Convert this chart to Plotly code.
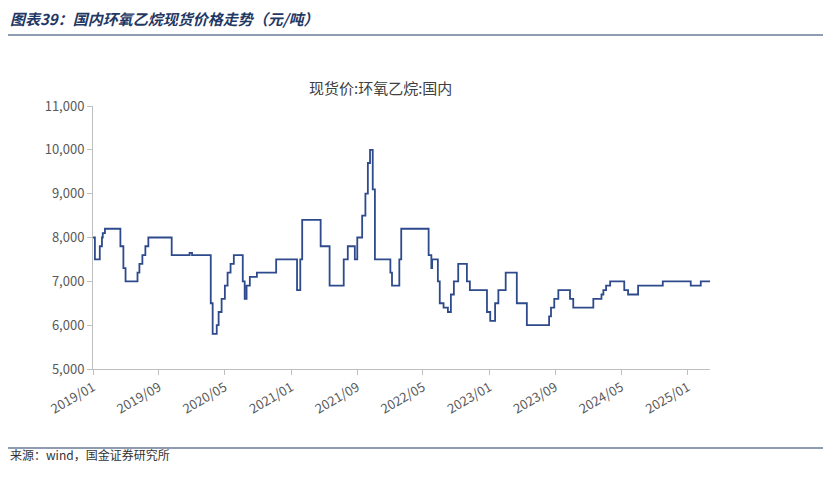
import plotly.graph_objects as go

dates = ["2019-01-01","2019-01-08","2019-01-26","2019-02-03","2019-02-06","2019-02-14","2019-04-12","2019-04-23","2019-05-01","2019-05-12","2019-06-14","2019-06-21","2019-07-02","2019-07-13","2019-07-24","2019-08-01","2019-10-18","2019-12-23","2020-01-01","2020-01-08","2020-03-10","2020-03-17","2020-04-01","2020-04-08","2020-04-19","2020-05-01","2020-05-11","2020-05-22","2020-06-03","2020-06-14","2020-07-06","2020-07-13","2020-07-20","2020-08-01","2020-08-27","2020-11-06","2021-01-22","2021-02-03","2021-02-10","2021-02-25","2021-04-19","2021-05-22","2021-07-13","2021-07-28","2021-08-23","2021-09-01","2021-09-19","2021-10-01","2021-10-10","2021-10-18","2021-10-28","2021-11-05","2022-01-01","2022-01-07","2022-02-03","2022-02-10","2022-05-22","2022-06-01","2022-06-04","2022-06-25","2022-07-02","2022-07-16","2022-08-01","2022-08-12","2022-08-23","2022-09-08","2022-10-10","2022-10-21","2022-12-23","2023-01-04","2023-01-22","2023-02-03","2023-03-02","2023-04-12","2023-05-19","2023-08-09","2023-08-16","2023-08-28","2023-09-12","2023-10-25","2023-11-06","2024-01-19","2024-02-18","2024-02-25","2024-03-06","2024-03-21","2024-05-12","2024-05-26","2024-07-02","2024-10-01","2025-01-12","2025-02-18","2025-03-24"]
prices = [8000,7500,7800,8000,8100,8200,7800,7300,7000,7000,7200,7400,7600,7800,8000,8000,7600,7650,7600,7600,6500,5800,6000,6300,6600,6900,7200,7400,7600,7600,7000,6600,6900,7100,7200,7500,6800,7500,8400,8400,7800,6900,7500,7800,7500,8000,8500,9000,9700,10000,9100,7500,7200,6900,7500,8200,7600,7300,7500,7000,6500,6400,6300,6700,7000,7400,7000,6800,6300,6100,6500,6800,7200,6500,6000,6200,6400,6600,6800,6600,6400,6600,6700,6800,6900,7000,6800,6700,6900,7000,6900,7000,7000]
tick_vals = ["2019-01-01","2019-09-01","2020-05-01","2021-01-01","2021-09-01","2022-05-01","2023-01-01","2023-09-01","2024-05-01","2025-01-01"]
tick_text = ["2019/01","2019/09","2020/05","2021/01","2021/09","2022/05","2023/01","2023/09","2024/05","2025/01"]

OFF = 8
W, H = 831, 478
L, R, T, B = 93 - OFF, W - (710 - OFF), 106 - OFF, H - (369 - OFF)
fig = go.Figure(go.Scatter(x=dates, y=prices, mode="lines", line=dict(color="#2E4A8C", width=1.8, shape="hv")))
fnt = "Noto Sans CJK SC"
fig.update_layout(
    width=W, height=H, margin=dict(l=L, r=R, t=T, b=B),
    paper_bgcolor="white", plot_bgcolor="white", showlegend=False,
    font=dict(family=fnt, color="#595959", size=13),
    xaxis=dict(range=["2019-01-01","2025-03-24"], tickvals=tick_vals, ticktext=tick_text, tickangle=-30,
               showgrid=False, showline=True, linecolor="#BFBFBF", ticks="outside", tickcolor="#BFBFBF", ticklen=5),
    yaxis=dict(range=[5000,11000], dtick=1000, tickformat=",", showgrid=False, showline=True,
               linecolor="#BFBFBF", ticks="outside", tickcolor="#BFBFBF", ticklen=5),
)
pw, ph = W - L - R, H - T - B
def px(x): return (x - OFF - L) / pw
def py(y): return (H - B - (y - OFF)) / ph
fig.add_annotation(text="<b><i>图表39：国内环氧乙烷现货价格走势（元/吨）</i></b>", xref="paper", yref="paper",
                   x=px(8), y=py(18), xanchor="left", yanchor="middle", showarrow=False, font=dict(size=15, color="#1F3864"))
fig.add_annotation(text="现货价:环氧乙烷:国内", xref="paper", yref="paper", x=px(380), y=py(75),
                   showarrow=False, font=dict(size=15, color="#404040"))
fig.add_annotation(text="来源：wind，国金证券研究所", xref="paper", yref="paper", x=px(8), y=py(465),
                   xanchor="left", showarrow=False, font=dict(size=12, color="#333333"))
for yy in (35, 448):
    fig.add_shape(type="line", xref="paper", yref="paper", x0=px(5), x1=px(826), y0=py(yy), y1=py(yy),
                  line=dict(color="#1F3864", width=1))
fig.write_html("out.html")
